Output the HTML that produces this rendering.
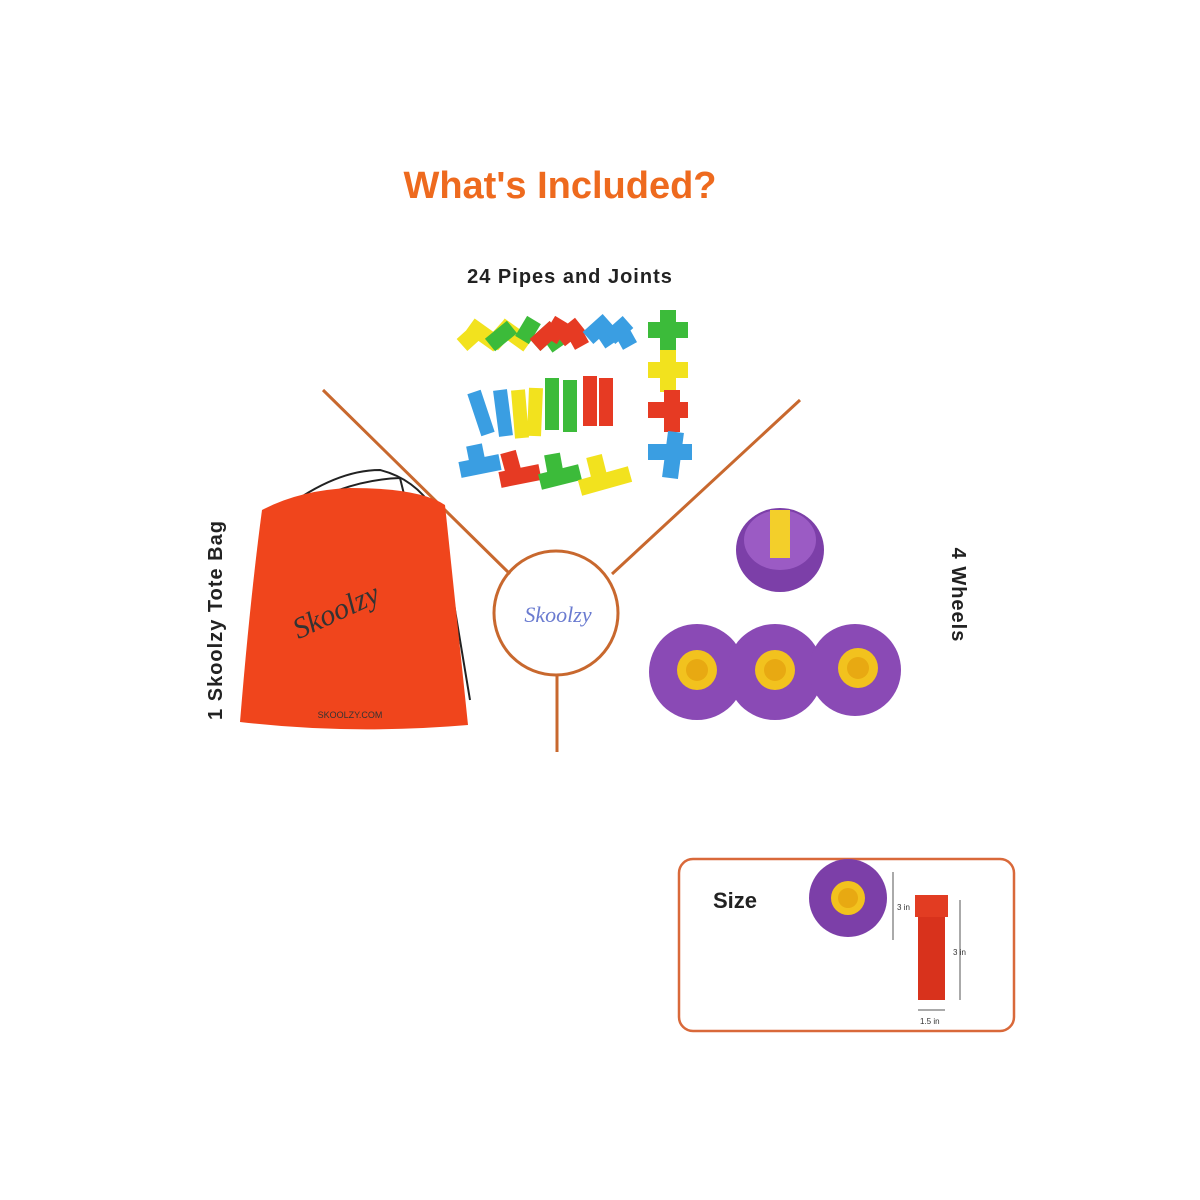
<!DOCTYPE html>
<html><head><style>
body{margin:0;width:1200px;height:1200px;background:#fff;overflow:hidden;position:relative;font-family:"Liberation Sans",sans-serif}
svg{position:absolute;left:0;top:0}
</style></head><body>
<svg width="1200" height="1200" viewBox="0 0 1200 1200">
<text x="560" y="198" text-anchor="middle" font-family="Liberation Sans" font-weight="bold" font-size="38" fill="#ee6a1e">What's Included?</text>
<text x="570" y="283" text-anchor="middle" font-family="Liberation Sans" font-weight="bold" font-size="20" fill="#222" letter-spacing="1">24 Pipes and Joints</text>
<g stroke="#c8682e" stroke-width="3" fill="none">
<line x1="323" y1="390" x2="510" y2="574"/>
<line x1="800" y1="400" x2="612" y2="574"/>
<line x1="557" y1="675" x2="557" y2="752"/>
<circle cx="556" cy="613" r="62"/>
</g>
<text x="558" y="622" text-anchor="middle" font-family="Liberation Serif" font-style="italic" font-size="22" fill="#6a7bd0">Skoolzy</text>
<!-- pipes -->
<g stroke-linecap="butt" stroke-width="16" fill="none">
<path d="M462 345 l20 -18 M470 325 l28 20" stroke="#f2e21e"/>
<path d="M492 345 l18 -20 M500 325 l28 20" stroke="#f2e21e"/>
<path d="M490 345 l22 -18 M522 340 l12 -20" stroke="#3cbb3a"/>
<path d="M535 345 l20 -18 M545 328 l14 20" stroke="#3cbb3a"/>
<path d="M535 345 l20 -18 M550 340 l12 -20" stroke="#e63a23"/>
<path d="M560 340 l20 -16 M572 328 l10 18" stroke="#e63a23"/>
<path d="M588 338 l20 -18 M600 326 l12 18" stroke="#3a9ee2"/>
<path d="M610 338 l18 -16 M620 328 l10 18" stroke="#3a9ee2"/>
<path d="M474 392 l14 42 M500 390 l6 46" stroke="#3a9ee2" stroke-width="14"/>
<path d="M518 390 l4 48 M536 388 l-2 48" stroke="#f2e21e" stroke-width="14"/>
<path d="M552 378 l0 52 M570 380 l0 52" stroke="#3cbb3a" stroke-width="14"/>
<path d="M590 376 l0 50 M606 378 l0 48" stroke="#e63a23" stroke-width="14"/>
<path d="M648 330 l40 0 M668 310 l0 45" stroke="#3cbb3a"/>
<path d="M648 370 l40 0 M668 350 l0 42" stroke="#f2e21e"/>
<path d="M648 410 l40 0 M672 390 l0 42" stroke="#e63a23"/>
<path d="M648 452 l44 0 M676 432 l-6 46" stroke="#3a9ee2"/>
<path d="M460 470 l40 -8 M478 465 l-4 -20" stroke="#3a9ee2"/>
<path d="M500 480 l40 -8 M514 474 l-6 -22" stroke="#e63a23"/>
<path d="M540 482 l40 -10 M556 476 l-4 -22" stroke="#3cbb3a"/>
<path d="M580 488 l50 -14 M600 480 l-6 -24" stroke="#f2e21e"/>
</g>
<!-- bag -->
<g stroke="#222" stroke-width="2" fill="none">
<path d="M270 520 Q330 470 380 470 Q420 480 440 520 L470 700"/>
<path d="M280 520 Q340 480 400 478 L455 700"/>
</g>
<path d="M262 510 Q300 490 350 488 Q420 488 445 505 Q455 600 468 725 Q350 735 240 722 Q250 600 262 510Z" fill="#f0451c"/>
<text x="340" y="620" text-anchor="middle" font-family="Liberation Serif" font-style="italic" font-size="30" fill="#333" transform="rotate(-25 340 620)">Skoolzy</text>
<text x="350" y="718" text-anchor="middle" font-size="9" fill="#333">SKOOLZY.COM</text>
<text transform="translate(222 620) rotate(-90)" text-anchor="middle" font-weight="bold" font-size="20" fill="#222" letter-spacing="1">1 Skoolzy Tote Bag</text>
<text transform="translate(952 595) rotate(90)" text-anchor="middle" font-weight="bold" font-size="20" fill="#222" letter-spacing="1">4 Wheels</text>
<!-- wheels -->
<g>
<ellipse cx="780" cy="550" rx="44" ry="42" fill="#7c3fa8"/>
<ellipse cx="780" cy="540" rx="36" ry="30" fill="#9b5bc4"/>
<rect x="770" y="510" width="20" height="48" fill="#f3cf2a"/>
<circle cx="697" cy="672" r="48" fill="#8a4ab5"/>
<circle cx="697" cy="670" r="20" fill="#f2c21e"/><circle cx="697" cy="670" r="11" fill="#e8a912"/>
<circle cx="775" cy="672" r="48" fill="#8a4ab5"/>
<circle cx="775" cy="670" r="20" fill="#f2c21e"/><circle cx="775" cy="670" r="11" fill="#e8a912"/>
<circle cx="855" cy="670" r="46" fill="#8a4ab5"/>
<circle cx="858" cy="668" r="20" fill="#f2c21e"/><circle cx="858" cy="668" r="11" fill="#e8a912"/>
</g>
<!-- size box -->
<rect x="679" y="859" width="335" height="172" rx="14" fill="none" stroke="#d9693a" stroke-width="2.5"/>
<text x="713" y="908" font-weight="bold" font-size="22" fill="#222">Size</text>
<circle cx="848" cy="898" r="39" fill="#7c3fa8"/>
<circle cx="848" cy="898" r="17" fill="#f2c21e"/><circle cx="848" cy="898" r="10" fill="#e8a912"/>
<line x1="893" y1="872" x2="893" y2="940" stroke="#555" stroke-width="1"/>
<text x="897" y="910" font-size="8" fill="#333">3 in</text>
<rect x="918" y="898" width="27" height="102" fill="#d8321c"/>
<rect x="915" y="895" width="33" height="22" fill="#e23c22"/>
<line x1="960" y1="900" x2="960" y2="1000" stroke="#555" stroke-width="1"/>
<text x="953" y="955" font-size="8" fill="#333">3 in</text>
<line x1="918" y1="1010" x2="945" y2="1010" stroke="#555" stroke-width="1"/>
<text x="920" y="1024" font-size="8" fill="#333">1.5 in</text>
</svg>
</body></html>
